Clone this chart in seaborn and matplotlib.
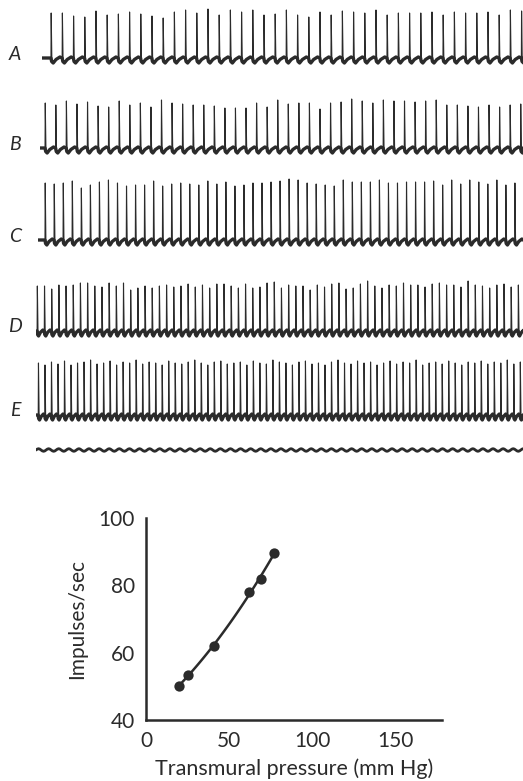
import numpy as np
import pandas as pd
import matplotlib
matplotlib.use("Agg")
import matplotlib.pyplot as plt
import seaborn as sns

trace_labels = ["A", "B", "C", "D", "E"]
trace_rates = [50, 53, 62, 78, 86]
first_spike_s = [0.016, 0.009, 0.0125, 0.002, 0.004]
spikes_a = [45, 45, 42, 41, 47, 43, 44, 46, 44, 42, 40, 46, 48, 45, 49, 43, 48, 46, 48,
            43, 44, 48, 43, 41, 46, 43, 47, 46, 45, 48, 43, 45, 45, 45, 46, 43, 46, 45, 45, 46, 43, 48, 47]
spikes_b = [45, 43, 47, 44, 46, 42, 41, 47, 43, 45, 41, 48, 45, 44, 43, 43, 42, 40, 40, 40,
            45, 41, 48, 44, 45, 45, 39, 45, 46, 49, 47, 45, 48, 47, 47, 46, 47, 48, 43, 43, 42, 41, 43, 41, 43, 44]
spikes_c = [57, 56, 57, 59, 52, 55, 58, 60, 57, 54, 55, 55, 59, 54, 56, 57, 56, 55, 59, 56, 58, 54, 55, 57,
            57, 58, 59, 61, 60, 57, 56, 55, 54, 60, 58, 58, 58, 60, 57, 57, 58, 58, 58, 59, 55, 60, 56, 60, 58,
            56, 60, 55, 57]
spikes_d = [45, 45, 42, 46, 45, 46, 48, 48, 45, 44, 48, 45, 48, 41, 43, 45, 43, 45, 46, 44, 45, 47, 44, 46, 43, 47,
            47, 45, 43, 47, 43, 44, 48, 49, 43, 46, 45, 45, 41, 46, 44, 47, 48, 42, 43, 47, 50, 45, 43, 46,
            45, 48, 46, 46, 44, 47, 48, 46, 46, 44, 50, 46, 45, 43, 46, 47, 44, 46]
spikes_e = [52, 50, 53, 51, 54, 50, 52, 53, 55, 51, 52, 54, 50, 53, 52, 55, 51, 53, 52, 50,
            54, 52, 51, 53, 55, 52, 50, 53, 54, 51, 52, 53, 50, 54, 52, 51, 55, 53, 52, 50,
            53, 54, 51, 52, 50, 53, 55, 52, 51, 54, 52, 53, 50, 52, 54, 51, 53, 52, 55, 50,
            52, 53, 51, 54, 52, 50, 53, 52, 54, 51, 53, 52, 55, 51, 53]
spike_heights = [spikes_a, spikes_b, spikes_c, spikes_d, spikes_e]
# after-potential shape between two spikes (fraction of interval -> level)
after_phase = [0.0, 0.06, 0.2, 0.45, 0.8]
after_level = [0.0, -3.5, -5.0, -1.5, 1.0]
timer_cycles = 48
timer_shape = [0, 0.7, 1, 0.7, 0, -0.7, -1, -0.7]

# --- graph
pressure = [20, 25, 41, 62, 69, 77]
impulses = [50, 53.5, 62, 78, 82, 89.5]

W, H = 523, 781
ink = "#2b2b2b"
px_per_s = 560
trace_start_px = [42, 40, 38, 36, 36]
baseline_px = [58, 148, 240, 331, 415]

sns.set_style("white")
plt.rcParams["font.family"] = ["Lato", "DejaVu Sans"]

fig = plt.figure(figsize=(W / 100, H / 100), dpi=100)
fig.patch.set_facecolor("white")

for lab, rate, t0, heights, x0, yb in zip(trace_labels, trace_rates, first_spike_s,
                                          spike_heights, trace_start_px, baseline_px):
    ax = fig.add_axes([x0 / W, 1 - (yb + 14) / H, (W - x0) / W, 78 / H])
    t_end = (W - x0) / px_per_s
    ax.set_xlim(0, t_end)
    ax.set_ylim(-14, 64)
    ax.axis("off")
    period = 1 / rate
    times = t0 + np.arange(len(heights)) * period
    bx = [0.0]
    by = [0.0]
    for t in times:
        bx.extend(t + np.array(after_phase) * period)
        by.extend(after_level)
    bx.append(t_end)
    by.append(0.0)
    ax.plot(bx, by, color=ink, lw=2.4, solid_joinstyle="round")
    for t, h in zip(times, heights):
        ax.plot([t, t + 0.0004, t + 0.0016], [0, h, -2], color=ink, lw=0.8)
    fig.text(15 / W, 1 - (yb - 4) / H, lab, ha="center", va="center",
             fontsize=14, style="italic", color=ink)

# time marker
axt = fig.add_axes([36 / W, 1 - 460 / H, (W - 36) / W, 20 / H])
wave = np.tile(timer_shape, timer_cycles + 1)
axt.plot(np.arange(len(wave)) / len(timer_shape), wave * 1.3, color=ink, lw=2.0)
axt.set_xlim(0, (W - 36) / 10.1)
axt.set_ylim(-10, 10)
axt.axis("off")

# impulses vs pressure
ax = fig.add_axes([146 / W, 1 - 720 / H, 296 / W, 202 / H])
df = pd.DataFrame({"pressure": pressure, "impulses": impulses})
sns.regplot(data=df, x="pressure", y="impulses", order=2, ci=None, truncate=True,
            color=ink, ax=ax,
            scatter_kws=dict(s=55, linewidths=0, alpha=1, zorder=3),
            line_kws=dict(lw=1.8))
ax.set_xlim(0, 178)
ax.set_ylim(40, 100)
ax.set_xticks([0, 50, 100, 150])
ax.set_yticks([40, 60, 80, 100])
sns.despine(ax=ax)
for s in ["left", "bottom"]:
    ax.spines[s].set_linewidth(1.8)
    ax.spines[s].set_color(ink)
ax.tick_params(direction="in", length=6, width=1.8, color=ink,
               labelsize=15, labelcolor=ink, pad=8)
ax.set_xlabel("Transmural pressure (mm Hg)", fontsize=15.5, color=ink, labelpad=5)
ax.set_ylabel("Impulses/sec", fontsize=15, color=ink, labelpad=8)

fig.savefig("out.png", dpi=100, facecolor="white")
